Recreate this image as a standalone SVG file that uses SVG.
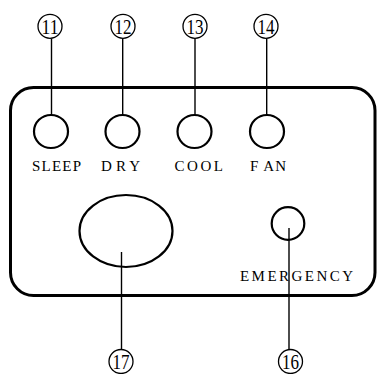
<svg xmlns="http://www.w3.org/2000/svg" width="377" height="374" viewBox="0 0 377 374">
<style>
.btn{fill:none;stroke:#000;stroke-width:2.2}
.lead{stroke:#000;stroke-width:1.4;fill:none}
.num{fill:#fff;stroke:#000;stroke-width:1.3}
.nt{font-family:"Liberation Serif",serif;font-size:21px;fill:#000;text-anchor:middle}
.lbl{font-family:"Liberation Serif",serif;font-size:15px;fill:#000}
</style>
<rect width="377" height="374" fill="#fff"/>
<g id="panel"><rect x="10.5" y="87.5" width="364.5" height="208" rx="23" ry="23" fill="none" stroke="#000" stroke-width="3"/></g>
<g id="connectors">
<line class="lead" x1="51.5" y1="38.5" x2="51.5" y2="115"/>
<line class="lead" x1="122.7" y1="38.5" x2="122.7" y2="115"/>
<line class="lead" x1="195" y1="38.5" x2="195" y2="115"/>
<line class="lead" x1="266.7" y1="38.5" x2="266.7" y2="115"/>
<line class="lead" x1="121.5" y1="252" x2="121.5" y2="350"/>
<line class="lead" x1="289" y1="228" x2="289" y2="350"/>
</g>
<g id="sleep"><ellipse class="btn" cx="51" cy="131.5" rx="17" ry="16.5"/><text class="lbl" x="32" y="171" textLength="49" lengthAdjust="spacing">SLEEP</text></g>
<g id="dry"><ellipse class="btn" cx="122.5" cy="131.5" rx="17" ry="16.5"/><text class="lbl" x="101" y="171" textLength="39" lengthAdjust="spacing">DRY</text></g>
<g id="cool"><ellipse class="btn" cx="194.5" cy="131.5" rx="17" ry="16.5"/><text class="lbl" x="174.5" y="171" textLength="48.5" lengthAdjust="spacing">COOL</text></g>
<g id="fan"><ellipse class="btn" cx="267" cy="131.5" rx="17" ry="16.5"/><text class="lbl" x="250" y="171" textLength="36" lengthAdjust="spacing">F AN</text></g>
<g id="main"><ellipse class="btn" cx="126" cy="231" rx="46.5" ry="36"/></g>
<g id="emergency"><circle class="btn" cx="288" cy="223.5" r="16.3"/><text class="lbl" x="240" y="281" textLength="113" lengthAdjust="spacing">EMERGENCY</text></g>
<g id="n11"><circle class="num" cx="50" cy="26.3" r="12"/><text class="nt" x="50" y="33.5" textLength="17" lengthAdjust="spacingAndGlyphs">11</text></g>
<g id="n12"><circle class="num" cx="123" cy="26.3" r="12"/><text class="nt" x="123" y="33.5" textLength="17" lengthAdjust="spacingAndGlyphs">12</text></g>
<g id="n13"><circle class="num" cx="195" cy="26.3" r="12"/><text class="nt" x="195" y="33.5" textLength="17" lengthAdjust="spacingAndGlyphs">13</text></g>
<g id="n14"><circle class="num" cx="266" cy="26.3" r="12"/><text class="nt" x="266" y="33.5" textLength="17" lengthAdjust="spacingAndGlyphs">14</text></g>
<g id="n17"><circle class="num" cx="121" cy="361.5" r="12"/><text class="nt" x="121" y="368.7" textLength="17" lengthAdjust="spacingAndGlyphs">17</text></g>
<g id="n16"><circle class="num" cx="290.5" cy="361.5" r="12"/><text class="nt" x="290.5" y="368.7" textLength="17" lengthAdjust="spacingAndGlyphs">16</text></g>
</svg>
